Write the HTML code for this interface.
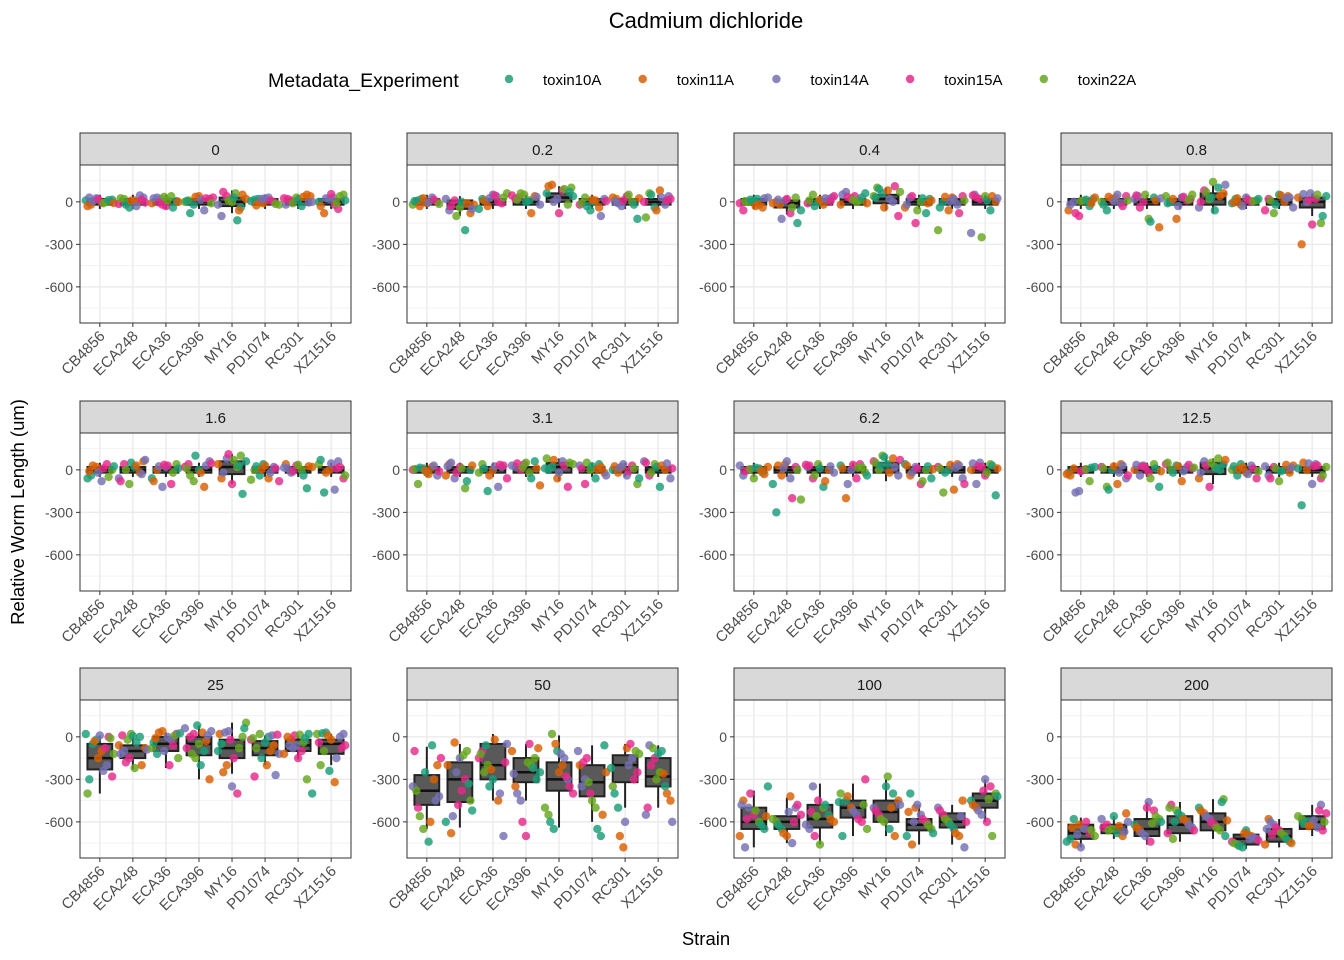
<!DOCTYPE html>
<html><head><meta charset="utf-8">
<style>
html,body{margin:0;padding:0;background:#fff;}
svg{display:block;font-family:"Liberation Sans",Arial,sans-serif;}
</style></head>
<body>
<svg id="chart" width="1344" height="960" viewBox="0 0 1344 960" xmlns="http://www.w3.org/2000/svg">
<text x="706" y="28" text-anchor="middle" font-size="22" fill="#000">Cadmium dichloride</text>
<g>
<text x="268" y="87" font-size="19.5" fill="#000">Metadata_Experiment</text>
<g id="legendItems"></g>
</g>
<text transform="translate(24,512) rotate(-90)" text-anchor="middle" font-size="18.5" fill="#000">Relative Worm Length (um)</text>
<text x="706" y="945" text-anchor="middle" font-size="18.5" fill="#000">Strain</text>
<g id="panels"></g>
</svg>
<script>
const facets = ["0","0.2","0.4","0.8","1.6","3.1","6.2","12.5","25","50","100","200"];
const strains = ["CB4856","ECA248","ECA36","ECA396","MY16","PD1074","RC301","XZ1516"];
const experiments = ["toxin10A","toxin11A","toxin14A","toxin15A","toxin22A"];
const colors = ["#1B9E77","#D95F02","#7570B3","#E7298A","#66A61E"];
const yTicks = [0,-300,-600];
const yTickLabels = ["0","-300","-600"];
const small = "0 -20 20 -50 50";
const boxes = [
 [small,small,small,small,"0 -30 30 -80 80",small,small,small],
 [small,"-20 -50 10 -100 40",small,small,"30 0 60 -40 110",small,small,small],
 [small,"-10 -40 10 -90 40",small,small,"20 -10 50 -60 100",small,small,small],
 [small,small,small,small,"20 -20 60 -80 120",small,small,"0 -40 30 -100 60"],
 [small,small,small,small,"20 -30 60 -100 110",small,small,small],
 [small,small,small,small,"20 -20 50 -80 80",small,small,small],
 [small,small,small,small,"20 -20 50 -80 100",small,small,small],
 [small,small,small,small,"10 -30 50 -100 80",small,small,small],
 ["-150 -230 -50 -400 10","-100 -150 -60 -230 10","-50 -100 0 -220 30","-50 -130 0 -300 80","-80 -150 -20 -260 100","-80 -130 -30 -200 10","-60 -100 -20 -160 10","-50 -120 -20 -200 20"],
 ["-380 -480 -270 -650 -70","-300 -460 -180 -640 -50","-200 -300 -50 -450 20","-250 -320 -150 -450 -50","-300 -380 -180 -640 10","-320 -420 -200 -600 -60","-200 -320 -130 -500 -50","-280 -350 -150 -500 -60"],
 ["-600 -650 -500 -780 -380","-600 -650 -560 -750 -430","-580 -640 -480 -760 -330","-500 -570 -450 -700 -330","-530 -600 -450 -700 -300","-620 -660 -580 -760 -480","-600 -640 -540 -760 -480","-450 -500 -400 -600 -300"],
 ["-680 -720 -620 -780 -570","-650 -680 -620 -720 -560","-650 -700 -580 -760 -460","-620 -680 -560 -740 -460","-600 -660 -540 -720 -440","-720 -760 -690 -790 -650","-700 -740 -650 -780 -580","-600 -650 -560 -700 -480"]
];
const points = [
 ["10 -20 25 -5 0 15 -30 5 20 -10 12 -8 30","0 30 -15 20 -40 10 45 -5 25 -20 8 -30 15","20 -30 40 5 -10 30 -20 10 -40 0 25 -5 35","30 10 -20 40 -60 20 0 -80 35 15 25 -10 5","60 -40 20 -100 40 0 -130 50 -20 70 10 30 -60","20 -10 30 0 -20 15 -5 25 10 -15 5 -25 20","40 -20 10 30 -30 50 0 20 -10 15 35 -5 25","30 -50 50 0 -80 20 -20 40 10 -30 25 55 -10"],
 ["20 -10 30 0 -20 10 25 -5 15 -15 5 -30","-20 -60 10 -40 -200 -80 20 -30 -100 0 -10 -50","40 -10 60 20 -30 50 0 30 -50 10 25 45","30 50 10 40 -20 20 60 0 -80 35 45 15","100 60 120 20 80 -20 40 110 0 -80 90 70","0 -40 20 -20 30 -60 10 -100 5 -10 -30 15","20 -30 40 0 -120 30 -10 10 50 -20 25 5","40 0 60 -40 80 -20 20 -110 50 -60 30 10"],
 ["20 -40 30 -60 0 10 -20 25 -10 5 15 -30","-20 10 -80 30 -60 0 -120 20 -40 -150 -10 15","30 -10 50 0 -20 20 40 10 -30 15 25 5","40 10 60 -20 70 20 0 30 -10 50 35 15","100 60 80 0 -100 40 90 -40 20 110 70 30","20 -40 30 -150 0 -80 10 -20 40 -60 25 -10","30 -20 40 -200 0 -60 20 -80 10 -40 35 5","50 20 40 -60 0 -220 30 -250 10 40 25 45"],
 ["20 -60 0 -100 10 -30 30 -20 -80 5 15 -10","30 -10 40 0 -60 20 50 -30 10 -20 35 5","40 0 -120 30 -180 20 -40 50 -140 10 25 45","20 40 0 -120 30 10 50 -10 20 -30 35 15","140 100 60 -40 80 20 -60 40 120 0 70 30","20 -20 30 0 10 -10 25 -30 15 5 20 -5","40 -40 20 -80 50 0 30 -60 10 -20 45 25","60 20 -150 40 -300 0 -160 50 -100 30 55 10"],
 ["-40 20 -80 40 0 -60 30 -20 10 -50 25 -10","60 -60 40 -100 20 -20 70 -80 0 50 30 -30","20 -100 40 -60 0 -120 30 -20 10 -80 25 35","40 -80 0 -120 60 20 -40 100 -20 30 45 10","100 60 -60 80 -100 20 -170 40 -20 110 70 30","40 -60 20 -80 0 -40 30 -20 10 -70 25 5","40 -20 30 0 -130 20 10 -10 35 -40 25 15","60 -60 40 -160 0 -140 20 -40 70 -20 45 10"],
 ["-20 20 -40 0 -100 10 -30 30 -10 5 15 -5","40 -60 20 -130 0 -40 50 -20 10 -80 30 25","20 -60 40 -150 0 -120 30 -20 10 -40 25 35","40 -20 60 -110 20 0 50 -60 10 30 45 15","80 20 -60 60 -120 40 0 70 -20 30 50 10","40 -20 30 -100 0 -60 20 -40 10 50 25 5","20 -40 30 -100 0 -20 40 -10 10 -60 25 15","60 -40 40 -120 0 -60 50 -20 20 30 45 10"],
 ["-20 20 -40 0 -60 10 -30 30 -10 5 15 -5","40 -60 20 -210 -300 -40 60 -200 0 -100 30 10","20 -60 40 -120 0 -20 30 -40 10 -80 25 35","40 -20 30 -200 0 -60 20 -40 10 -100 35 15","100 40 80 -40 60 0 90 -20 20 70 50 30","40 -40 20 -100 0 -60 30 -20 10 -80 25 5","40 -60 20 -160 0 -140 30 -100 10 -20 35 15","50 -40 40 -180 0 -100 20 -20 30 10 45 25"],
 ["-20 10 -150 0 -80 20 -40 -160 -10 5 15 -30","40 -60 20 -120 0 -100 30 -40 10 -140 25 -20","30 -20 40 -120 0 -40 20 -60 10 -10 35 25","40 0 30 -80 20 10 50 -20 25 -10 35 15","80 40 -60 60 -120 20 0 70 -20 30 50 10","40 -20 30 -60 0 -40 20 -30 10 -10 25 5","30 -40 20 -80 0 -20 25 -60 10 -10 35 15","40 -60 20 -250 0 -100 30 -40 10 50 45 25"],
 ["-20 -100 -200 -280 -400 -50 -150 -240 0 -120 -300 -30 10 -80 -10 20","-60 -100 -150 -220 0 -80 -120 -180 20 -40 -200 -90 10 -20 5","-20 20 -80 -120 40 0 -60 -150 -40 30 -100 -200 10 25 -10","20 -50 -100 -300 60 0 -150 -200 -30 40 -80 -120 80 30 10","100 -50 -200 -350 -400 0 -100 -250 40 -150 -80 60 20 30 -20","0 -60 -120 -280 20 -40 -100 -270 -20 -80 -150 -200 10 15 -10","-20 -60 -100 -300 -400 0 -80 -150 -40 20 -120 -60 10 15 -10","20 -40 -100 -240 -320 0 -60 -200 30 -20 -150 -80 20 25 10"],
 ["-60 -200 -350 -500 -650 -740 -300 -420 -100 -560 -250 -600 -450 -150 -380","-40 -150 -300 -450 -600 -680 -250 -380 -100 -520 -200 -560 -480 -130 -330","-50 -100 -200 -300 -450 -700 -150 -250 -350 -20 -400 -180 -120 -60 -230","-50 -150 -250 -350 -450 -700 -200 -300 -100 -400 -600 -180 -220 -80 -260","20 -100 -200 -300 -400 -550 -650 -250 -150 -350 -500 -600 -50 -120 -280","-60 -200 -300 -400 -500 -700 -250 -350 -150 -450 -650 -550 -100 -180 -320","-80 -150 -250 -350 -500 -780 -200 -300 -120 -400 -700 -600 -50 -100 -220","-60 -150 -250 -350 -450 -550 -200 -300 -100 -400 -600 -500 -80 -120 -260"],
 ["-350 -450 -500 -550 -600 -650 -700 -780 -400 -520 -620 -560 -480 -580","-420 -500 -550 -600 -650 -700 -750 -480 -580 -620 -680 -530 -600","-350 -450 -500 -550 -600 -650 -700 -760 -480 -580 -620 -530 -560","-300 -400 -450 -500 -550 -600 -650 -700 -420 -520 -580 -480 -460","-280 -400 -450 -500 -550 -600 -650 -700 -480 -520 -580 -350 -500","-400 -500 -550 -600 -650 -700 -760 -480 -580 -620 -680 -530 -600","-450 -500 -550 -600 -650 -700 -780 -520 -580 -620 -680 -560 -600","-300 -350 -400 -450 -500 -550 -600 -700 -420 -480 -520 -380 -440"],
 ["-580 -620 -650 -680 -700 -720 -760 -780 -600 -660 -740 -640 -690","-540 -580 -620 -650 -680 -700 -600 -640 -660 -560 -630 -670","-460 -520 -580 -620 -660 -700 -740 -560 -600 -640 -680 -500 -610","-480 -520 -560 -600 -640 -680 -720 -540 -580 -620 -660 -500 -600","-440 -500 -540 -580 -620 -660 -700 -520 -560 -600 -640 -460 -590","-660 -700 -720 -740 -760 -780 -690 -710 -730 -750 -770 -680 -720","-580 -620 -660 -700 -740 -760 -600 -640 -680 -720 -750 -650 -690","-480 -540 -580 -600 -620 -640 -660 -560 -610 -630 -590 -520 -600"]
];

const NS = "http://www.w3.org/2000/svg";
function mk(tag, attrs, parent){const e=document.createElementNS(NS,tag);for(const k in attrs)e.setAttribute(k,attrs[k]);parent.appendChild(e);return e;}
const colX=[80,407,734,1061], stripTop=[133,401,668], PW=271, PH=158, SH=32;
const yMax=260, yMin=-855;

const lg=document.getElementById('legendItems');
experiments.forEach((ex,i)=>{
  const cx=509+i*133.7;
  const c=mk('circle',{cx:cx,cy:79,r:4.2,fill:colors[i],'fill-opacity':0.85},lg);
  
  
  const t=mk('text',{x:cx+34,y:85,'font-size':15,fill:'#000'},lg);
  
  
  t.textContent=ex;
});

const root=document.getElementById('panels');
facets.forEach((f,fi)=>{
  const col=fi%4,row=Math.floor(fi/4);
  const x0=colX[col], st=stripTop[row], top=st+SH;
  const ys=v=>top+(yMax-v)/(yMax-yMin)*PH;
  const band=PW/(strains.length-1+1.2);
  const xs=i=>x0+band*(0.6+i);
  const g=mk('g',{},root);
  
  
  const s=mk('rect',{x:x0,y:st,width:PW,height:SH,fill:'#d9d9d9',stroke:'#333','stroke-width':1},g);
  
  
  const stt=mk('text',{x:x0+PW/2,y:st+22,'text-anchor':'middle','font-size':15,fill:'#1a1a1a'},g);
  
  
  stt.textContent=f;
  const bg=mk('rect',{x:x0,y:top,width:PW,height:PH,fill:'#fff'},g);
  
  
  [150,-150,-450,-750].forEach(v=>{const l=mk('line',{x1:x0,x2:x0+PW,y1:ys(v),y2:ys(v),stroke:'#f2f2f2','stroke-width':1},g);});
  yTicks.forEach((v,i)=>{
    const l=mk('line',{x1:x0,x2:x0+PW,y1:ys(v),y2:ys(v),stroke:'#ebebeb','stroke-width':1.4},g);
    
    
    mk('line',{x1:x0-4,x2:x0,y1:ys(v),y2:ys(v),stroke:'#333'},g);
    const t=mk('text',{x:x0-7,y:ys(v)+5,'text-anchor':'end','font-size':14,fill:'#4d4d4d'},g);
    
    
    t.textContent=yTickLabels[i];
  });
  strains.forEach((sn,si)=>{
    const l=mk('line',{x1:xs(si),x2:xs(si),y1:top,y2:top+PH,stroke:'#ebebeb','stroke-width':1.4},g);
    
    
    mk('line',{x1:xs(si),x2:xs(si),y1:top+PH,y2:top+PH+4,stroke:'#333'},g);
    const t=mk('text',{transform:`translate(${xs(si)+6},${top+PH+14}) rotate(-45)`,'text-anchor':'end','font-size':15,fill:'#4d4d4d'},g);
    
    
    t.textContent=sn;
  });
  strains.forEach((sn,si)=>{
    const [med,q1,q3,lo,hi]=boxes[fi][si].split(' ').map(Number);
    const cx=xs(si), w=band*0.75;
    const bx=mk('g',{},g);
    
    
    mk('line',{x1:cx,x2:cx,y1:ys(hi),y2:ys(q3),stroke:'#222','stroke-width':2},bx);
    mk('line',{x1:cx,x2:cx,y1:ys(q1),y2:ys(lo),stroke:'#222','stroke-width':2},bx);
    mk('rect',{x:cx-w/2,y:ys(q3),width:w,height:Math.max(1,ys(q1)-ys(q3)),fill:'#595959',stroke:'#222','stroke-width':2},bx);
    mk('line',{x1:cx-w/2,x2:cx+w/2,y1:ys(med),y2:ys(med),stroke:'#111','stroke-width':2.5},bx);
  });
  strains.forEach((sn,si)=>{
    const vals=points[fi][si].split(' ').map(Number);
    vals.forEach((v,k)=>{
      const off=(((k*37+si*11+fi*5)%17)/16-0.5)*band*0.85;
      const c=mk('circle',{cx:xs(si)+off,cy:ys(v),r:4.2,fill:colors[(k+si)%5],'fill-opacity':0.82},g);
      
      
    });
  });
  const br=mk('rect',{x:x0,y:top,width:PW,height:PH,fill:'none',stroke:'#333','stroke-width':1},g);
  
  
});
</script>
</body></html>
